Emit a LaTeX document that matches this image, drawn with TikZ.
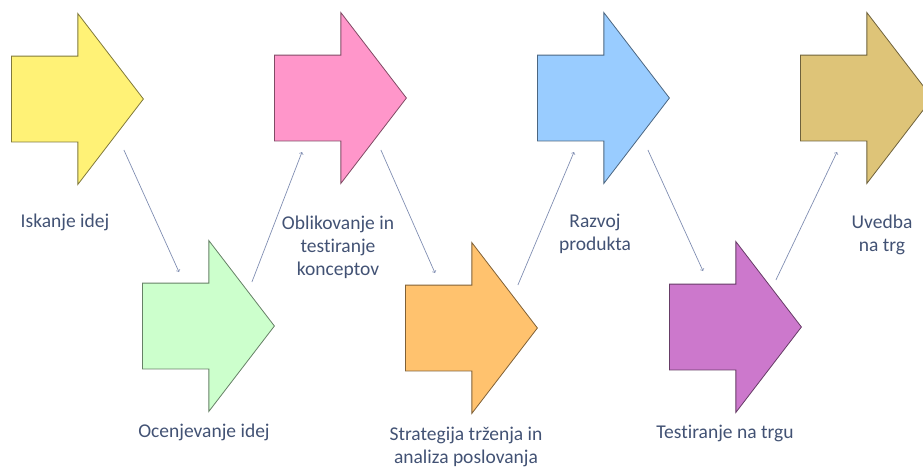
\documentclass[tikz,border=0pt]{standalone}
\usepackage{fontspec}
\setmainfont{Carlito}[Ligatures=NoCommon]
\usepackage{tikz}
\usetikzlibrary{shapes.arrows,positioning,calc,arrows}
\usepackage{xcolor}
\definecolor{stageyellow}{RGB}{255,242,118}
\definecolor{stagegreen}{RGB}{204,255,204}
\definecolor{stagepink}{RGB}{255,150,202}
\definecolor{stageorange}{RGB}{255,194,110}
\definecolor{stageblue}{RGB}{153,204,255}
\definecolor{stagepurple}{RGB}{204,120,204}
\definecolor{stagetan}{RGB}{222,196,120}
\definecolor{textblue}{RGB}{66,82,116}
\definecolor{linkgrey}{RGB}{128,142,178}

\begin{document}
\begin{tikzpicture}[
    x=1pt, y=-1pt,
    stage/.style={single arrow, draw=#1!50!black, fill=#1, line width=0.8pt,
        inner sep=0pt, text width=0pt, text height=85pt, text depth=0pt,
        minimum width=170pt, minimum height=132pt,
        single arrow head extend=42.5pt, single arrow tip angle=105, anchor=tail},
    steptext/.style={align=center, text=textblue, font=\fontsize{19.5}{23}\selectfont},
    link/.style={->, draw=linkgrey, line width=0.7pt}
]
    \useasboundingbox (0,0) rectangle (923,474);
    \clip (0,0) rectangle (923,474);

    % Upper row
    \node[stage=stageyellow] (idea) at (11,99) {};
    \node[stage=stagepink] (concept) at (274,98) {};
    \node[stage=stageblue] (develop) at (537,98) {};
    \node[stage=stagetan] (launch) at (800,98) {};

    % Lower row
    \node[stage=stagegreen] (screen) at (142,326) {};
    \node[stage=stageorange] (strategy) at (405,328) {};
    \node[stage=stagepurple] (market) at (669,327) {};

    % Captions
    \node[steptext] (ideaText) at (65,222) {Iskanje idej};
    \node[steptext] (screenText) at (204,432) {Ocenjevanje idej};
    \node[steptext] (conceptText) at (338,247) {Oblikovanje in\\testiranje\\konceptov};
    \node[steptext] (strategyText) at (466,447) {Strategija trženja in\\analiza poslovanja};
    \node[steptext] (developText) at (595,234) {Razvoj\\produkta};
    \node[steptext] (marketText) at (725,433) {Testiranje na trgu};
    \node[steptext] (launchText) at (882,235) {Uvedba\\na trg};

    % Connectors between stages
    \draw[link] ([shift={(-20,51)}]idea.tip) -- ([shift={(37,-54)}]screen.tail);
    \draw[link] ([shift={(-23,-44)}]screen.tip) -- ([shift={(28,54)}]concept.tail);
    \draw[link] ([shift={(-26,52)}]concept.tip) -- ([shift={(30,-55)}]strategy.tail);
    \draw[link] ([shift={(-20,-43)}]strategy.tip) -- ([shift={(37,54)}]develop.tail);
    \draw[link] ([shift={(-22,52)}]develop.tip) -- ([shift={(34,-56)}]market.tail);
    \draw[link] ([shift={(-26,-47)}]market.tip) -- ([shift={(37,54)}]launch.tail);
\end{tikzpicture}
\end{document}
